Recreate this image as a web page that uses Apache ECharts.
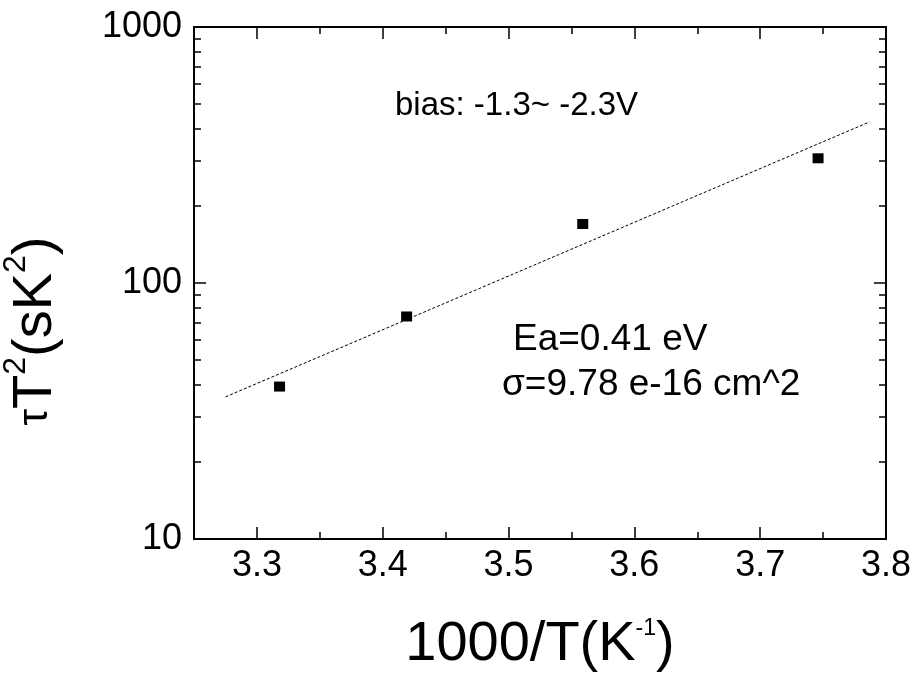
<!DOCTYPE html>
<html><head><meta charset="utf-8">
<script src="https://cdn.jsdelivr.net/npm/echarts@6/dist/echarts.min.js"></script>
<style>html,body{margin:0;padding:0;background:#fff}#c{width:917px;height:681px}</style>
</head><body><div id="c"></div>
<script>
// ---- data ----
const xValues = [3.318, 3.419, 3.559, 3.746];      // 1000/T (K^-1)
const yValues = [39.4, 74.0, 170.0, 307.0];        // tau*T^2 (s K^2)
const fitX = [3.275, 3.787];                       // fitted line end points
const fitY = [35.9, 426.0];
const xMajorTicks = [3.3, 3.4, 3.5, 3.6, 3.7, 3.8];
const xMinorTicks = [3.35, 3.45, 3.55, 3.65, 3.75];
const yMajorTicks = [10, 100, 1000];
const yMinorTicks = [20, 30, 40, 50, 60, 70, 80, 90, 200, 300, 400, 500, 600, 700, 800, 900];
const annotBias = 'bias: -1.3~ -2.3V';
const annotEa = 'Ea=0.41 eV';
const annotSigma = 'σ=9.78 e-16 cm^2';

const FONT = '"Liberation Sans", Arial, sans-serif';
const black = '#000';
const gridRect = {left: 194, top: 27, width: 692, height: 512, containLabel: false, outerBoundsMode: 'none'};

function xAx(gridIndex, position, ticks, len, showLine, labels, extra) {
  return Object.assign({
    type: 'value', gridIndex, position, min: 3.25, max: 3.8,
    axisLine: {show: showLine, onZero: false, lineStyle: {color: black, width: 2}},
    axisTick: {show: true, inside: true, length: len, customValues: ticks, lineStyle: {color: black, width: 1.5}},
    axisLabel: labels ? {show: true, customValues: ticks, fontSize: 36, fontFamily: FONT, color: black, margin: 9,
      formatter: v => Number(v).toFixed(1)} : {show: false},
    splitLine: {show: false}, minorTick: {show: false}
  }, extra || {});
}
function yAx(gridIndex, position, ticks, len, showLine, labels, extra) {
  return Object.assign({
    type: 'log', logBase: 10, gridIndex, position, min: 10, max: 1000,
    axisLine: {show: showLine, onZero: false, lineStyle: {color: black, width: 2}},
    axisTick: {show: true, inside: true, length: len, customValues: ticks, lineStyle: {color: black, width: 1.5}},
    axisLabel: labels ? {show: true, customValues: ticks, fontSize: 36, fontFamily: FONT, color: black, margin: 12,
      formatter: v => String(Math.round(v))} : {show: false},
    splitLine: {show: false}, minorTick: {show: false}
  }, extra || {});
}

const chart = echarts.init(document.getElementById('c'), null, {renderer: 'canvas'});
chart.setOption({
  backgroundColor: '#fff',
  animation: false,
  grid: [Object.assign({}, gridRect), Object.assign({}, gridRect)],
  xAxis: [
    xAx(0, 'bottom', xMajorTicks, 12, true, true, {
      name: '{m|1000/T(K}{s|-1}{m|)}', nameLocation: 'middle', nameGap: 78,
      nameTextStyle: {rich: {
        m: {fontSize: 56, lineHeight: 56, fontFamily: FONT, color: black, verticalAlign: 'bottom'},
        s: {fontSize: 23, lineHeight: 23, fontFamily: FONT, color: black, verticalAlign: 'top'}
      }}
    }),
    xAx(0, 'top', xMajorTicks, 12, true, false),
    xAx(1, 'bottom', xMinorTicks, 7, false, false),
    xAx(1, 'top', xMinorTicks, 7, false, false)
  ],
  yAxis: [
    yAx(0, 'left', yMajorTicks, 12, true, true, {
      name: '{t|τ}{m|T}{s|2}{m|(sK}{s|2}{m|)}', nameLocation: 'middle', nameRotate: 90, nameGap: 130,
      nameTextStyle: {padding: [0, 96, 0, 0], rich: {
        t: {fontSize: 42, lineHeight: 42, fontFamily: FONT, color: black, verticalAlign: 'bottom', padding: [0, 0, 8, 0]},
        m: {fontSize: 56, lineHeight: 64, fontFamily: FONT, color: black, verticalAlign: 'bottom'},
        s: {fontSize: 32, lineHeight: 32, fontFamily: FONT, color: black, verticalAlign: 'top'}
      }}
    }),
    yAx(0, 'right', yMajorTicks, 12, true, false),
    yAx(1, 'left', yMinorTicks, 7, false, false),
    yAx(1, 'right', yMinorTicks, 7, false, false)
  ],
  series: [
    {
      type: 'line', xAxisIndex: 0, yAxisIndex: 0,
      data: fitX.map((x, i) => [x, fitY[i]]),
      symbol: 'none', silent: true,
      lineStyle: {color: black, width: 1, type: [3, 2]}
    },
    {
      type: 'scatter', xAxisIndex: 0, yAxisIndex: 0,
      data: xValues.map((x, i) => [x, yValues[i]]),
      symbol: 'rect', symbolSize: [11, 10],
      itemStyle: {color: black, opacity: 1}
    }
  ],
  graphic: [
    {type: 'text', x: 395, y: 106, style: {text: annotBias, font: '33px ' + FONT, fill: black, verticalAlign: 'middle', align: 'left'}},
    {type: 'text', x: 513, y: 340, style: {text: annotEa, font: '37px ' + FONT, fill: black, verticalAlign: 'middle', align: 'left'}},
    {type: 'text', x: 502, y: 385, style: {text: annotSigma, font: '37px ' + FONT, fill: black, verticalAlign: 'middle', align: 'left'}}
  ]
});
</script>
</body></html>
